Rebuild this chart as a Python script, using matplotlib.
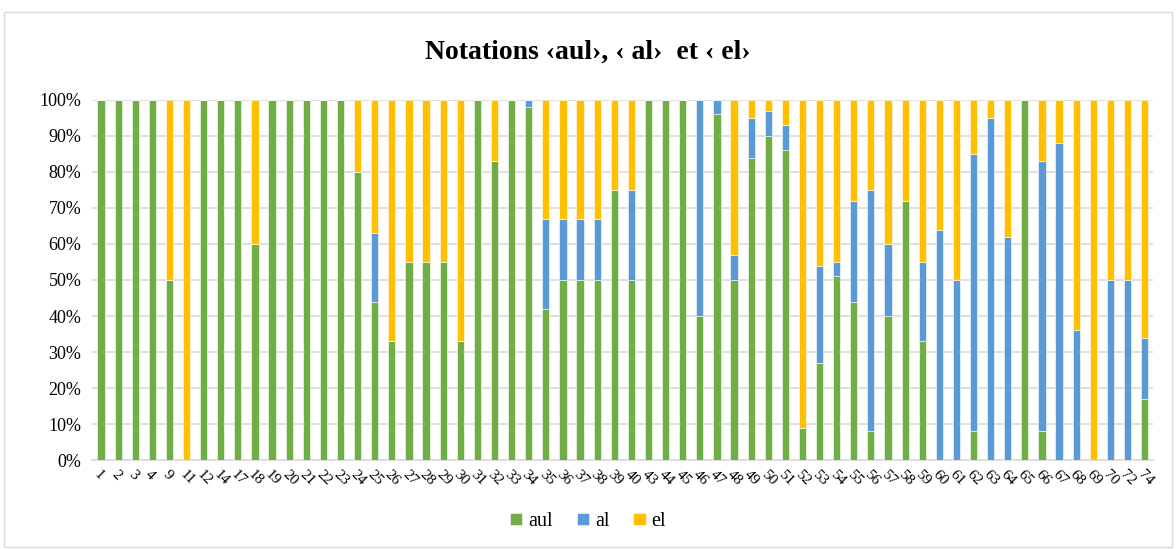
import matplotlib
matplotlib.use("Agg")
import matplotlib.pyplot as plt
import numpy as np
from matplotlib.patches import Rectangle
from matplotlib.ticker import FuncFormatter

labels = ["1","2","3","4","9","11","12","14","17","18","19","20","21","22","23","24","25","26",
          "27","28","29","30","31","32","33","34","35","36","37","38","39","40","43","44","45",
          "46","47","48","49","50","51","52","53","54","55","56","57","58","59","60","61","62",
          "63","64","65","66","67","68","69","70","72","74"]
aul = [100,100,100,100,50,0,100,100,100,60,100,100,100,100,100,80,44,33,
       55,55,55,33,100,83,100,98,42,50,50,50,75,50,100,100,100,
       40,96,50,84,90,86,9,27,51,44,8,40,72,33,0,0,8,
       0,0,100,8,0,0,0,0,0,17]
al = [0,0,0,0,0,0,0,0,0,0,0,0,0,0,0,0,19,0,
      0,0,0,0,0,0,0,2,25,17,17,17,0,25,0,0,0,
      60,4,7,11,7,7,0,27,4,28,67,20,0,22,64,50,77,
      95,62,0,75,88,36,0,50,50,17]
el = [0,0,0,0,50,100,0,0,0,40,0,0,0,0,0,20,37,67,
      45,45,45,67,0,17,0,0,33,33,33,33,25,25,0,0,0,
      0,0,43,5,3,7,91,46,45,28,25,40,28,45,36,50,15,
      5,38,0,17,12,64,100,50,50,66]

plt.rcParams['font.family'] = ['Liberation Serif', 'DejaVu Serif']

fig = plt.figure(figsize=(11.76, 5.49), dpi=100)
ax = fig.add_axes([0.0786, 0.162, 0.902, 0.656])

x = np.arange(len(labels))
aul_a = np.array(aul, float)
al_a = np.array(al, float)
el_a = np.array(el, float)
tot = aul_a + al_a + el_a
green, blue, yellow = "#70AD47", "#5B9BD5", "#FFC000"
w = 0.42
ax.bar(x, aul_a / tot * 100, w, color=green, label="aul", zorder=3, edgecolor="white", linewidth=0.4)
ax.bar(x, al_a / tot * 100, w, bottom=aul_a / tot * 100, color=blue, label="al", zorder=3, edgecolor="white", linewidth=0.4)
ax.bar(x, el_a / tot * 100, w, bottom=(aul_a + al_a) / tot * 100, color=yellow, label="el", zorder=3, edgecolor="white", linewidth=0.4)

ax.set_xlim(-0.5, len(labels) - 0.5)
ax.set_ylim(0, 100)
ax.set_yticks(np.arange(0, 101, 10))
ax.yaxis.set_major_formatter(FuncFormatter(lambda v, p: f"{int(v)}%"))
ax.grid(axis="y", color="#D9D9D9", linewidth=1.2, zorder=0)
ax.set_axisbelow(True)
for s in ["top", "right", "left"]:
    ax.spines[s].set_visible(False)
ax.spines["bottom"].set_color("#D9D9D9")
ax.spines["bottom"].set_linewidth(1.2)
ax.tick_params(axis="both", length=0, labelsize=12.5, colors="#000000")
ax.tick_params(axis="y", pad=8, labelsize=13)
ax.set_xticks(x)
ax.set_xticklabels(labels, rotation=-45, ha="left", va="top", rotation_mode="anchor", fontsize=11)
ax.tick_params(axis="x", pad=6)

fig.text(0.5, 0.905, "Notations ‹aul›, ‹ al›  et ‹ el›", ha="center", va="center",
         fontsize=20, fontweight="bold")

leg = fig.legend(loc="center", bbox_to_anchor=(0.5, 0.05), ncol=3, frameon=False,
                 fontsize=14.5, handlelength=0.6, handleheight=0.6, handletextpad=0.3,
                 columnspacing=1.2)

border = Rectangle((0.003, 0.003), 0.994, 0.975, transform=fig.transFigure, fill=False,
                   edgecolor="#D9D9D9", linewidth=1)
fig.patches.append(border)

fig.savefig("out.png", dpi=100, facecolor="white")
